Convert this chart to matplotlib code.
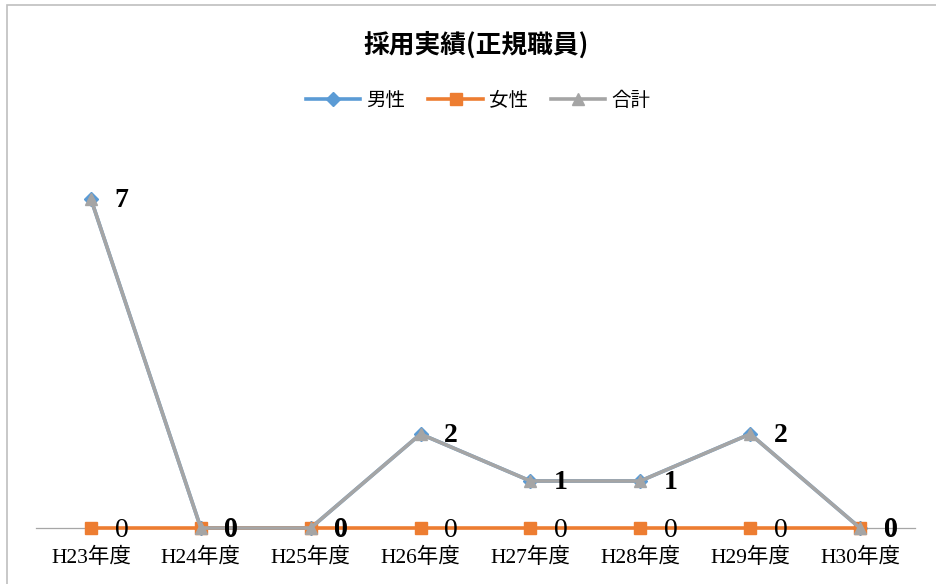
import matplotlib
matplotlib.use('Agg')
import matplotlib.pyplot as plt
from matplotlib.patches import Rectangle

years = ['H23年度', 'H24年度', 'H25年度', 'H26年度', 'H27年度', 'H28年度', 'H29年度', 'H30年度']
male = [7, 0, 0, 2, 1, 1, 2, 0]
female = [0, 0, 0, 0, 0, 0, 0, 0]
total = [7, 0, 0, 2, 1, 1, 2, 0]

gothic = ['Noto Sans CJK JP', 'DejaVu Sans']
serif = ['Liberation Serif', 'Noto Sans CJK JP']

fig = plt.figure(figsize=(9.37, 5.84), dpi=100)
ax = fig.add_axes([36/937, 1-528/584, 879/937, (528-152)/584])

x = range(len(years))
ax.plot(x, male, color='#5B9BD5', lw=2.6, marker='D', ms=7, label='男性', zorder=3, clip_on=False)
ax.plot(x, female, color='#ED7D31', lw=2.6, marker='s', ms=9, label='女性', zorder=4, clip_on=False)
ax.plot(x, total, color='#A5A5A5', lw=2.6, marker='^', ms=9, label='合計', zorder=5, clip_on=False)

# data labels
for i in x:
    ax.annotate(str(female[i]), (i, female[i]), xytext=(22, -2), textcoords='offset points',
                ha='center', va='center', fontsize=20, family=serif, zorder=6)
    ax.annotate(str(total[i]), (i, total[i]), xytext=(22, -1), textcoords='offset points',
                ha='center', va='center', fontsize=20, family=serif, fontweight='bold', zorder=6)

ax.set_xlim(-0.5, len(years) - 0.5)
ax.set_ylim(0, 8)
ax.set_xticks(list(x))
ax.set_xticklabels(years, family=serif, fontsize=15.5)
ax.tick_params(axis='x', length=0, pad=14)
ax.set_yticks([])
for s in ['top', 'right', 'left']:
    ax.spines[s].set_visible(False)
ax.spines['bottom'].set_color('#A6A6A6')
ax.spines['bottom'].set_linewidth(0.9)
ax.patch.set_alpha(0)

fig.text(476/937, 1-45/584, '採用実績(正規職員)', ha='center', va='center',
         fontsize=18.5, fontweight='bold', family=gothic)
fig.legend(loc='center', bbox_to_anchor=(478/937, 1-100/584), ncol=3, frameon=False,
           prop={'family': gothic, 'size': 14}, handlelength=2.8, handletextpad=0.3,
           columnspacing=1.2)

# chart frame (cropped on right and bottom)
fig.patches.append(Rectangle((7/937, -0.1), 1.2, 1.1 - 5.5/584, transform=fig.transFigure,
                             fill=False, edgecolor='#BFBFBF', lw=1.2))

fig.savefig('out.png', dpi=100)
